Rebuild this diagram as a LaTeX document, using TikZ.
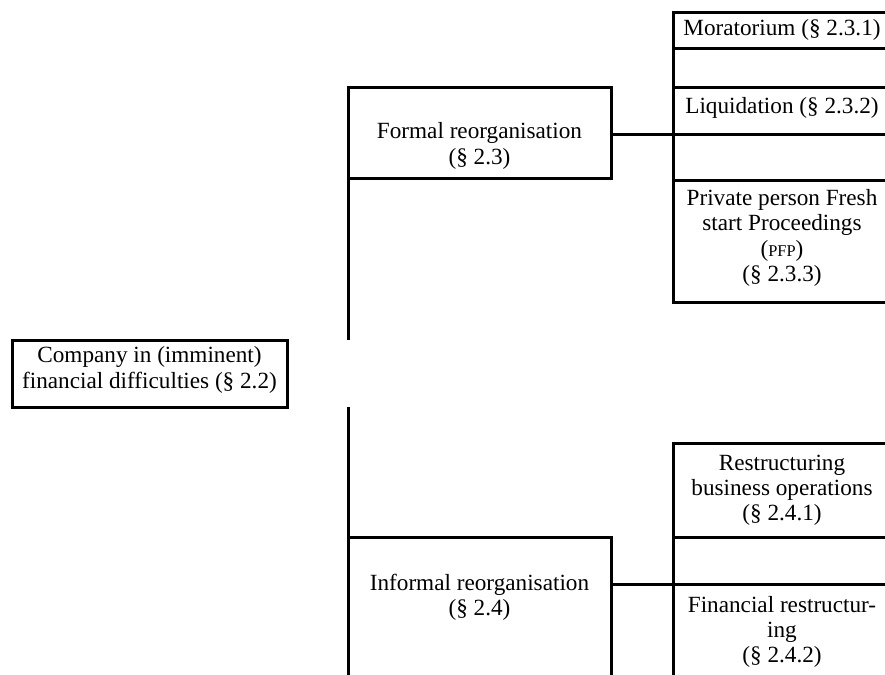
\documentclass[tikz,border=0pt]{standalone}
\usepackage{fontspec}
\setmainfont{Liberation Serif}
\begin{document}
\begin{tikzpicture}[x=0.5pt,y=-0.5pt,
  box/.style={draw,line width=1.5pt,rectangle,inner sep=0pt,outer sep=0pt},
  rbox/.style={box,anchor=west,minimum width=130pt},
  lbl/.style={align=center,inner sep=0pt,font=\fontsize{11.6}{12.6}\selectfont},
  conn/.style={line width=1.5pt}]
\useasboundingbox (0,0) rectangle (885,675);
% boxes
\node[box,minimum width=137.5pt,minimum height=33.5pt] (company) at (149.5,373.5) {};
\node[box,minimum width=131.5pt,minimum height=45.5pt] (formal) at (479.5,132.5) {};
\node[box,minimum width=131.5pt,minimum height=81.5pt] (informal) at (479.5,618.5) {};
\node[rbox,minimum height=18pt] (morat) at (673,30) {};
\node[rbox,minimum height=19.5pt] (blankA) at (673,67.5) {};
\node[rbox,minimum height=23.5pt] (liquid) at (673,110.5) {};
\node[rbox,minimum height=23pt] (blankB) at (673,157) {};
\node[rbox,minimum height=61pt] (pfp) at (673,241) {};
\node[rbox,minimum height=47pt] (restr) at (673,490) {};
\node[rbox,minimum height=23.5pt] (blankC) at (673,560.5) {};
\node[rbox,minimum height=58pt] (fin) at (673,642) {};
% texts
\node[lbl] (tcompany) at (149.5,370) {Company in (imminent)\\financial difficulties (§ 2.2)};
\node[lbl] (tformal) at (479.5,146) {Formal reorganisation\\(§ 2.3)};
\node[lbl] (tinformal) at (479.5,597) {Informal reorganisation\\(§ 2.4)};
\node[lbl] (tmorat) at (782,30) {Moratorium (§ 2.3.1)};
\node[lbl] (tliquid) at (782,108) {Liquidation (§ 2.3.2)};
\node[lbl] (tpfp) at (782,238) {Private person Fresh\\start Proceedings\\({\fontsize{8.2}{9}\selectfont PFP})\\(§ 2.3.3)};
\node[lbl] (trestr) at (782,490) {Restructuring\\business operations\\(§ 2.4.1)};
\node[lbl] (tfin) at (782,632) {Financial restructur-\\ing\\(§ 2.4.2)};
% connectors
\coordinate (cA) at (348,340);
\coordinate (cB) at (348,407);
\draw[conn] (formal.south west) -- (cA);
\draw[conn] (cB) -- (informal.north west);
\draw[conn] (formal.east |- liquid.south west) -- (liquid.south west);
\draw[conn] (informal.east |- blankC.south west) -- (blankC.south west);
\end{tikzpicture}
\end{document}
